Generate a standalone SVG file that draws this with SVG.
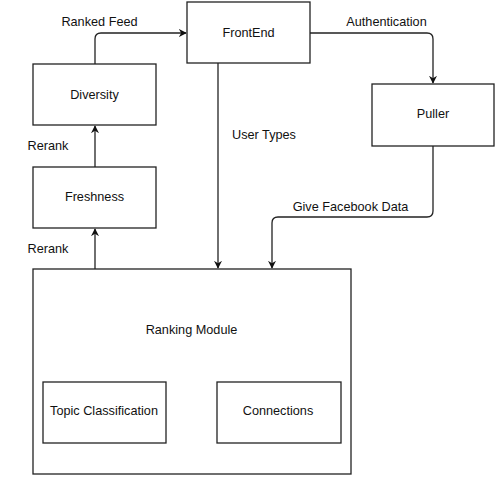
<svg xmlns="http://www.w3.org/2000/svg" width="498" height="480" viewBox="0 0 498 480">
<defs>
<style>
.box{fill:#fff;stroke:#222;stroke-width:1.3}
.edge{fill:none;stroke:#222;stroke-width:1.3}
text{font-family:"Liberation Sans",Arial,sans-serif;font-size:12.7px;fill:#111}
.c{text-anchor:middle}
</style>
<marker id="arr" viewBox="0 0 10 10" refX="9" refY="5" markerWidth="8" markerHeight="8" markerUnits="userSpaceOnUse" orient="auto">
<path d="M0,0 L10,5 L0,10 L3,5 Z" fill="#111"/>
</marker>
</defs>
<rect width="498" height="480" fill="#fff"/>
<g id="connectors">
<path class="edge" d="M95,64 V39 Q95,33 101,33 H186" marker-end="url(#arr)"/>
<path class="edge" d="M310,33 H427 Q433,33 433,39 V83" marker-end="url(#arr)"/>
<path class="edge" d="M95,167 V126" marker-end="url(#arr)"/>
<path class="edge" d="M95,269 V229" marker-end="url(#arr)"/>
<path class="edge" d="M218,63 V268" marker-end="url(#arr)"/>
<path class="edge" d="M433,146 V211 Q433,217 427,217 H278 Q272,217 272,223 V268" marker-end="url(#arr)"/>
<text x="99.5" y="26" class="c">Ranked Feed</text>
<text x="386.5" y="26" class="c">Authentication</text>
<text x="264" y="139" class="c">User Types</text>
<text x="48" y="150" class="c">Rerank</text>
<text x="48" y="253" class="c">Rerank</text>
<text x="350.5" y="211" class="c">Give Facebook Data</text>
</g>
<g id="frontend"><rect class="box" x="187" y="2" width="123" height="61"/><text x="248.5" y="37" class="c">FrontEnd</text></g>
<g id="diversity"><rect class="box" x="33" y="64" width="123" height="61"/><text x="94.5" y="99" class="c">Diversity</text></g>
<g id="freshness"><rect class="box" x="33" y="167" width="123" height="61"/><text x="94.5" y="201" class="c">Freshness</text></g>
<g id="puller"><rect class="box" x="372" y="84" width="122" height="62"/><text x="433" y="118" class="c">Puller</text></g>
<g id="ranking"><rect class="box" x="33" y="269" width="318" height="205"/><text x="191.5" y="334" class="c">Ranking Module</text></g>
<g id="topic"><rect class="box" x="43" y="382" width="123" height="61"/><text x="104" y="415" class="c">Topic Classification</text></g>
<g id="connections"><rect class="box" x="217" y="382" width="124" height="61"/><text x="278" y="415" class="c">Connections</text></g>
</svg>
